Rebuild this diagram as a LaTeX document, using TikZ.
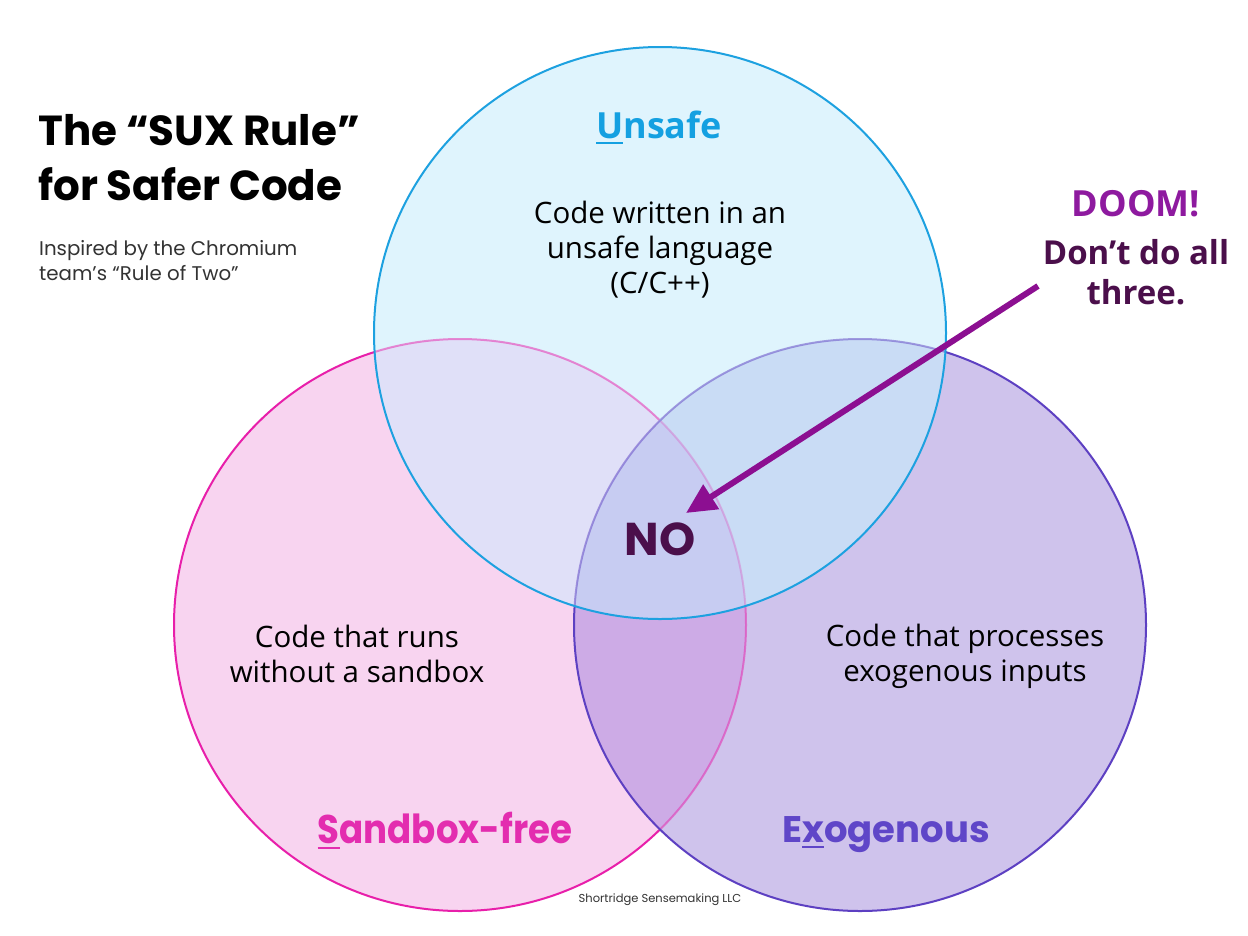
\documentclass[tikz,border=0pt]{standalone}
\usepackage{fontspec}
\setmainfont{Open Sans}
\newfontfamily\geo{Poppins}
\usetikzlibrary{arrows.meta}

% fills of the seven Venn regions
\definecolor{fillU}{HTML}{DFF4FD}
\definecolor{fillS}{HTML}{F8D4F0}
\definecolor{fillX}{HTML}{CFC3EC}
\definecolor{fillUS}{HTML}{E0E0F8}
\definecolor{fillUX}{HTML}{C9DCF5}
\definecolor{fillSX}{HTML}{CDABE6}
\definecolor{fillUSX}{HTML}{C7CCF2}
% outlines and labels
\definecolor{lineU}{HTML}{1DA1E0}
\definecolor{lineS}{HTML}{E81FAA}
\definecolor{lineX}{HTML}{5D40C2}
\definecolor{textU}{HTML}{14A0E1}
\definecolor{textS}{HTML}{E32DAF}
\definecolor{textX}{HTML}{5F46C8}
\definecolor{doom}{HTML}{8E1A9F}
\definecolor{darkplum}{HTML}{4B0F4B}
\definecolor{arrowplum}{HTML}{8C0F91}

\newlength\keyw
\newcommand\keyletter[1]{\settowidth\keyw{#1}\rlap{\rule[-6pt]{\keyw}{2.5pt}}#1}

\def\pU{(cU) circle[radius=286pt]}
\def\pS{(cS) circle[radius=286pt]}
\def\pX{(cX) circle[radius=286pt]}

% paints every region of the diagram with its own colour
\newcommand\paintvenn{%
  \fill[fillS] \pS;
  \fill[fillX] \pX;
  \begin{scope}\clip \pX; \fill[fillSX] \pS;\end{scope}
  \fill[fillU] \pU;
  \begin{scope}\clip \pU; \fill[fillUS] \pS; \fill[fillUX] \pX;
    \clip \pS; \fill[fillUSX] \pX;\end{scope}}

\begin{document}
\begin{tikzpicture}[x=1pt,y=-1pt,
  ring/.style={line width=2pt},
  desc/.style={font=\fontsize{29.5}{35}\selectfont, align=center, inner sep=0pt},
  setname/.style={inner sep=0pt, anchor=base},
  arrowline/.style={draw=arrowplum, line width=6pt,
    -{Triangle[length=30pt,width=28pt]}}]
\useasboundingbox[fill=white] (0,0) rectangle (1248,935);

\coordinate (cU) at (660,333);
\coordinate (cS) at (460,625);
\coordinate (cX) at (860,625);

% region fills
\paintvenn
% outlines, each later circle softening the ones beneath it
\draw[ring, lineS] \pS;
\begin{scope}\clip \pX;
  \begin{scope}[transparency group, opacity=0.5]\paintvenn\end{scope}
\end{scope}
\draw[ring, lineX] \pX;
\begin{scope}\clip \pU;
  \begin{scope}[transparency group, opacity=0.5]\paintvenn\end{scope}
\end{scope}
\draw[ring, lineU] \pU;

% title block
\node[anchor=west, inner sep=0pt, align=left,
      font=\geo\bfseries\fontsize{42}{55}\selectfont] (title) at (38,158)
  {The “SUX Rule”\\for Safer Code};
\node[anchor=west, inner sep=0pt, align=left,
      font=\geo\fontsize{19.8}{25}\selectfont, text=black!80] (subtitle) at (39,261)
  {Inspired by the Chromium\\team’s “Rule of Two”};

% set names
\node[setname, text=textU, font=\bfseries\fontsize{36}{40}\selectfont]
  (nameU) at (659,138) {\keyletter{U}nsafe};
\node[setname, text=textS, font=\geo\bfseries\fontsize{40}{46}\selectfont]
  (nameS) at (445,843) {\scalebox{0.89}[1]{\keyletter{S}andbox-free}};
\node[setname, text=textX, font=\geo\bfseries\fontsize{37}{40}\selectfont]
  (nameX) at (886,842) {E\keyletter{x}ogenous};

% set descriptions
\node[desc] (descU) at (660,250) {Code written in an\\unsafe language\\(C/C++)};
\node[desc] (descS) at (357,654) {Code that runs\\without a sandbox};
\node[desc] (descX) at (965,656) {Code that processes\\exogenous inputs};

% the triple overlap
\node[inner sep=0pt, text=darkplum, font=\geo\bfseries\fontsize{46}{50}\selectfont]
  (no) at (660,539) {NO};

% warning and its arrow
\node[setname, text=doom, font=\bfseries\fontsize{36}{40}\selectfont]
  (doomtxt) at (1136,216) {DOOM!};
\node[inner sep=0pt, align=center, text=darkplum,
      font=\bfseries\fontsize{33}{40}\selectfont] (dont) at (1136,272)
  {Don’t do all\\three.};
\coordinate (tail) at (1038,286);
\coordinate (tip) at (686,513);
\draw[arrowline] (tail) -- (tip);

% credit line
\node[setname, font=\geo\fontsize{11.5}{14}\selectfont, text=black!80]
  (credit) at (660,902) {Shortridge Sensemaking LLC};
\end{tikzpicture}
\end{document}
